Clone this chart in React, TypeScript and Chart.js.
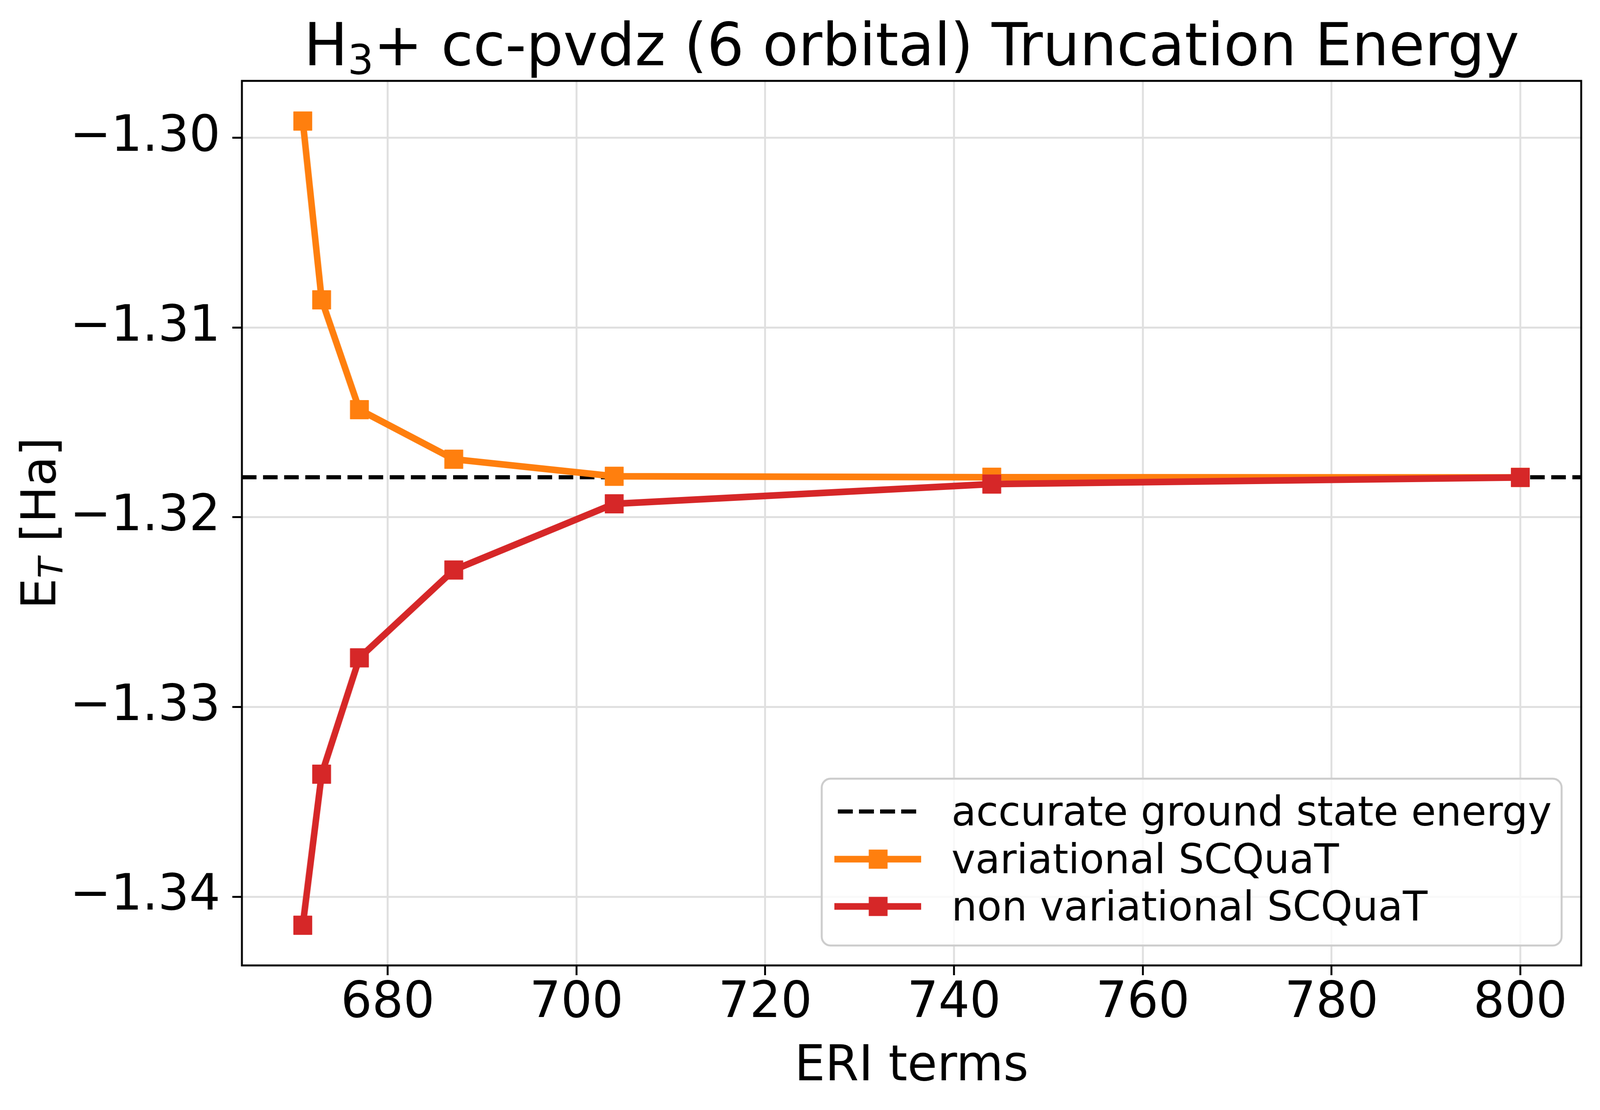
import React, { useEffect, useRef } from 'react';
import { Chart, registerables } from 'chart.js';

Chart.register(...registerables);

// ---- data ----
const eriTerms = [671, 673, 677, 687, 704, 744, 800];
const variationalEnergy = [-1.29912, -1.30854, -1.31433, -1.31694, -1.31784, -1.31789, -1.3179];
const nonVariationalEnergy = [-1.3415, -1.33354, -1.32741, -1.32278, -1.31929, -1.31825, -1.3179];
const groundStateEnergy = -1.31789;
const xTickValues = [680, 700, 720, 740, 760, 780, 800];
const yTickValues = [-1.34, -1.33, -1.32, -1.31, -1.3];
const seriesLabels = ['accurate ground state energy', 'variational SCQuaT', 'non variational SCQuaT'];
const titleParts = ['H', '3', '+ cc-pvdz (6 orbital) Truncation Energy'];
const xAxisLabel = 'ERI terms';
const yAxisLabelParts = ['E', 'T', ' [Ha]'];

const W = 4167;
const H = 2841;
const FONT = '"DejaVu Sans", sans-serif';
const ORANGE = '#ff7f0e';
const RED = '#d62728';

// matplotlib-like 5% margins
function withMargins(values: number[]): [number, number] {
  const lo = Math.min(...values);
  const hi = Math.max(...values);
  const m = (hi - lo) * 0.05;
  return [lo - m, hi + m];
}
const [xMin, xMax] = withMargins(eriTerms);
const [yMin, yMax] = withMargins([...variationalEnergy, ...nonVariationalEnergy, groundStateEnergy]);

function roundRect(ctx: CanvasRenderingContext2D, x: number, y: number, w: number, h: number, r: number) {
  ctx.beginPath();
  ctx.moveTo(x + r, y);
  ctx.lineTo(x + w - r, y);
  ctx.arcTo(x + w, y, x + w, y + r, r);
  ctx.lineTo(x + w, y + h - r);
  ctx.arcTo(x + w, y + h, x + w - r, y + h, r);
  ctx.lineTo(x + r, y + h);
  ctx.arcTo(x, y + h, x, y + h - r, r);
  ctx.lineTo(x, y + r);
  ctx.arcTo(x, y, x + r, y, r);
  ctx.closePath();
}

const decorPlugin = {
  id: 'decor',
  beforeDraw(chart: any) {
    const ctx = chart.ctx as CanvasRenderingContext2D;
    ctx.save();
    ctx.fillStyle = '#ffffff';
    ctx.fillRect(0, 0, chart.width, chart.height);
    ctx.restore();
  },
  afterDatasetsDraw(chart: any) {
    const ctx = chart.ctx as CanvasRenderingContext2D;
    const a = chart.chartArea;
    ctx.save();
    ctx.strokeStyle = '#000000';
    ctx.lineWidth = 5;
    ctx.strokeRect(a.left, a.top, a.right - a.left, a.bottom - a.top);
    ctx.restore();
  },
  afterDraw(chart: any) {
    const ctx = chart.ctx as CanvasRenderingContext2D;
    const a = chart.chartArea;
    const cx = (a.left + a.right) / 2;
    const cy = (a.top + a.bottom) / 2;
    ctx.save();
    ctx.fillStyle = '#000000';
    ctx.textBaseline = 'alphabetic';
    ctx.textAlign = 'left';

    // title with subscript
    const tMain = 152;
    const tSub = 106;
    ctx.font = `${tMain}px ${FONT}`;
    const w0 = ctx.measureText(titleParts[0]).width;
    const w2 = ctx.measureText(titleParts[2]).width;
    ctx.font = `${tSub}px ${FONT}`;
    const w1 = ctx.measureText(titleParts[1]).width;
    let x = cx - (w0 + w1 + w2) / 2;
    const tb = 167;
    ctx.font = `${tMain}px ${FONT}`;
    ctx.fillText(titleParts[0], x, tb);
    x += w0;
    ctx.font = `${tSub}px ${FONT}`;
    ctx.fillText(titleParts[1], x, tb + 23);
    x += w1;
    ctx.font = `${tMain}px ${FONT}`;
    ctx.fillText(titleParts[2], x, tb);

    // x axis label
    ctx.font = `126px ${FONT}`;
    ctx.textAlign = 'center';
    ctx.fillText(xAxisLabel, cx, 2765);

    // y axis label (rotated) with italic subscript
    ctx.textAlign = 'left';
    const yMainF = `125px ${FONT}`;
    const ySubF = `italic 87px ${FONT}`;
    ctx.font = yMainF;
    const e0 = ctx.measureText(yAxisLabelParts[0]).width;
    const e2 = ctx.measureText(yAxisLabelParts[2]).width;
    ctx.font = ySubF;
    const e1 = ctx.measureText(yAxisLabelParts[1]).width;
    ctx.save();
    ctx.translate(144, cy);
    ctx.rotate(-Math.PI / 2);
    let yx = -(e0 + e1 + e2) / 2;
    ctx.font = yMainF;
    ctx.fillText(yAxisLabelParts[0], yx, 0);
    yx += e0;
    ctx.font = ySubF;
    ctx.fillText(yAxisLabelParts[1], yx, 19);
    yx += e1;
    ctx.font = yMainF;
    ctx.fillText(yAxisLabelParts[2], yx, 0);
    ctx.restore();

    // legend
    const lx = 2140, ly = 1993, lw = 1927, lh = 427;
    roundRect(ctx, lx, ly, lw, lh, 23);
    ctx.fillStyle = 'rgba(255,255,255,0.8)';
    ctx.fill();
    ctx.strokeStyle = '#cccccc';
    ctx.lineWidth = 5;
    ctx.stroke();

    const rows = [2077, 2199, 2320];
    const ds = chart.data.datasets;
    ctx.font = `105px ${FONT}`;
    ctx.textAlign = 'left';
    rows.forEach((ry, i) => {
      const d = ds[i];
      ctx.save();
      ctx.strokeStyle = d.borderColor;
      ctx.lineWidth = d.borderWidth;
      ctx.lineCap = 'butt';
      if (d.borderDash && d.borderDash.length) {
        ctx.setLineDash([39, 16]);
        ctx.beginPath();
        ctx.moveTo(2182, ry);
        ctx.lineTo(2387, ry);
        ctx.stroke();
      } else {
        ctx.beginPath();
        ctx.moveTo(2173, ry);
        ctx.lineTo(2399, ry);
        ctx.stroke();
        const s = 49;
        ctx.fillStyle = d.pointBackgroundColor || d.borderColor;
        ctx.fillRect(2287 - s / 2, ry - s / 2, s, s);
      }
      ctx.restore();
      ctx.fillStyle = '#000000';
      ctx.fillText(d.label, 2478, ry + 36);
    });
    ctx.restore();
  },
};

export default function App() {
  const ref = useRef<HTMLCanvasElement | null>(null);

  useEffect(() => {
    document.body.style.margin = '0';
    document.body.style.overflow = 'hidden';
    document.documentElement.style.overflow = 'hidden';
    const canvas = ref.current;
    if (!canvas) return;

    const gridCommon = {
      color: '#e0e0e0',
      lineWidth: 5,
      drawTicks: true,
      tickLength: 25,
      tickColor: '#000000',
      tickWidth: 5,
    };

    const chart = new Chart(canvas, {
      type: 'line',
      data: {
        datasets: [
          {
            label: seriesLabels[0],
            data: [
              { x: xMin, y: groundStateEnergy },
              { x: xMax, y: groundStateEnergy },
            ],
            borderColor: '#000000',
            borderWidth: 10.5,
            borderDash: [38, 17],
            borderCapStyle: 'butt',
            pointRadius: 0,
            fill: false,
            order: 3,
          },
          {
            label: seriesLabels[1],
            data: eriTerms.map((x, i) => ({ x, y: variationalEnergy[i] })),
            borderColor: ORANGE,
            backgroundColor: ORANGE,
            pointBackgroundColor: ORANGE,
            pointBorderColor: ORANGE,
            borderWidth: 17,
            borderJoinStyle: 'round',
            pointStyle: 'rect',
            pointRadius: 34,
            pointBorderWidth: 1,
            tension: 0,
            fill: false,
            order: 2,
          },
          {
            label: seriesLabels[2],
            data: eriTerms.map((x, i) => ({ x, y: nonVariationalEnergy[i] })),
            borderColor: RED,
            backgroundColor: RED,
            pointBackgroundColor: RED,
            pointBorderColor: RED,
            borderWidth: 17,
            borderJoinStyle: 'round',
            pointStyle: 'rect',
            pointRadius: 34,
            pointBorderWidth: 1,
            tension: 0,
            fill: false,
            order: 1,
          },
        ],
      } as any,
      options: {
        animation: false,
        responsive: false,
        maintainAspectRatio: false,
        devicePixelRatio: 1,
        events: [],
        layout: { padding: { top: 207, right: 49, left: 0, bottom: 0 } },
        plugins: {
          legend: { display: false },
          tooltip: { enabled: false },
          title: { display: false },
        },
        scales: {
          x: {
            type: 'linear',
            min: xMin,
            max: xMax,
            afterBuildTicks: (s: any) => {
              s.ticks = xTickValues.map((v) => ({ value: v }));
            },
            afterFit: (s: any) => {
              s.height = H - 2471;
            },
            grid: gridCommon,
            border: { display: false },
            ticks: {
              autoSkip: false,
              maxRotation: 0,
              color: '#000000',
              padding: 10,
              font: { family: FONT, size: 128, lineHeight: 1 },
              callback: (v: any) => String(v),
            },
          },
          y: {
            type: 'linear',
            min: yMin,
            max: yMax,
            afterBuildTicks: (s: any) => {
              s.ticks = yTickValues.map((v) => ({ value: v }));
            },
            afterFit: (s: any) => {
              s.width = 630;
            },
            grid: gridCommon,
            border: { display: false },
            ticks: {
              autoSkip: false,
              color: '#000000',
              padding: 31,
              font: { family: FONT, size: 128, lineHeight: 1 },
              callback: (v: any) => '\u2212' + Math.abs(Number(v)).toFixed(2),
            },
          },
        },
      } as any,
      plugins: [decorPlugin as any],
    });

    return () => {
      chart.destroy();
    };
  }, []);

  return (
    <canvas
      ref={ref}
      width={W}
      height={H}
      style={{ display: 'block', width: '100vw', height: '100vh' }}
    />
  );
}
